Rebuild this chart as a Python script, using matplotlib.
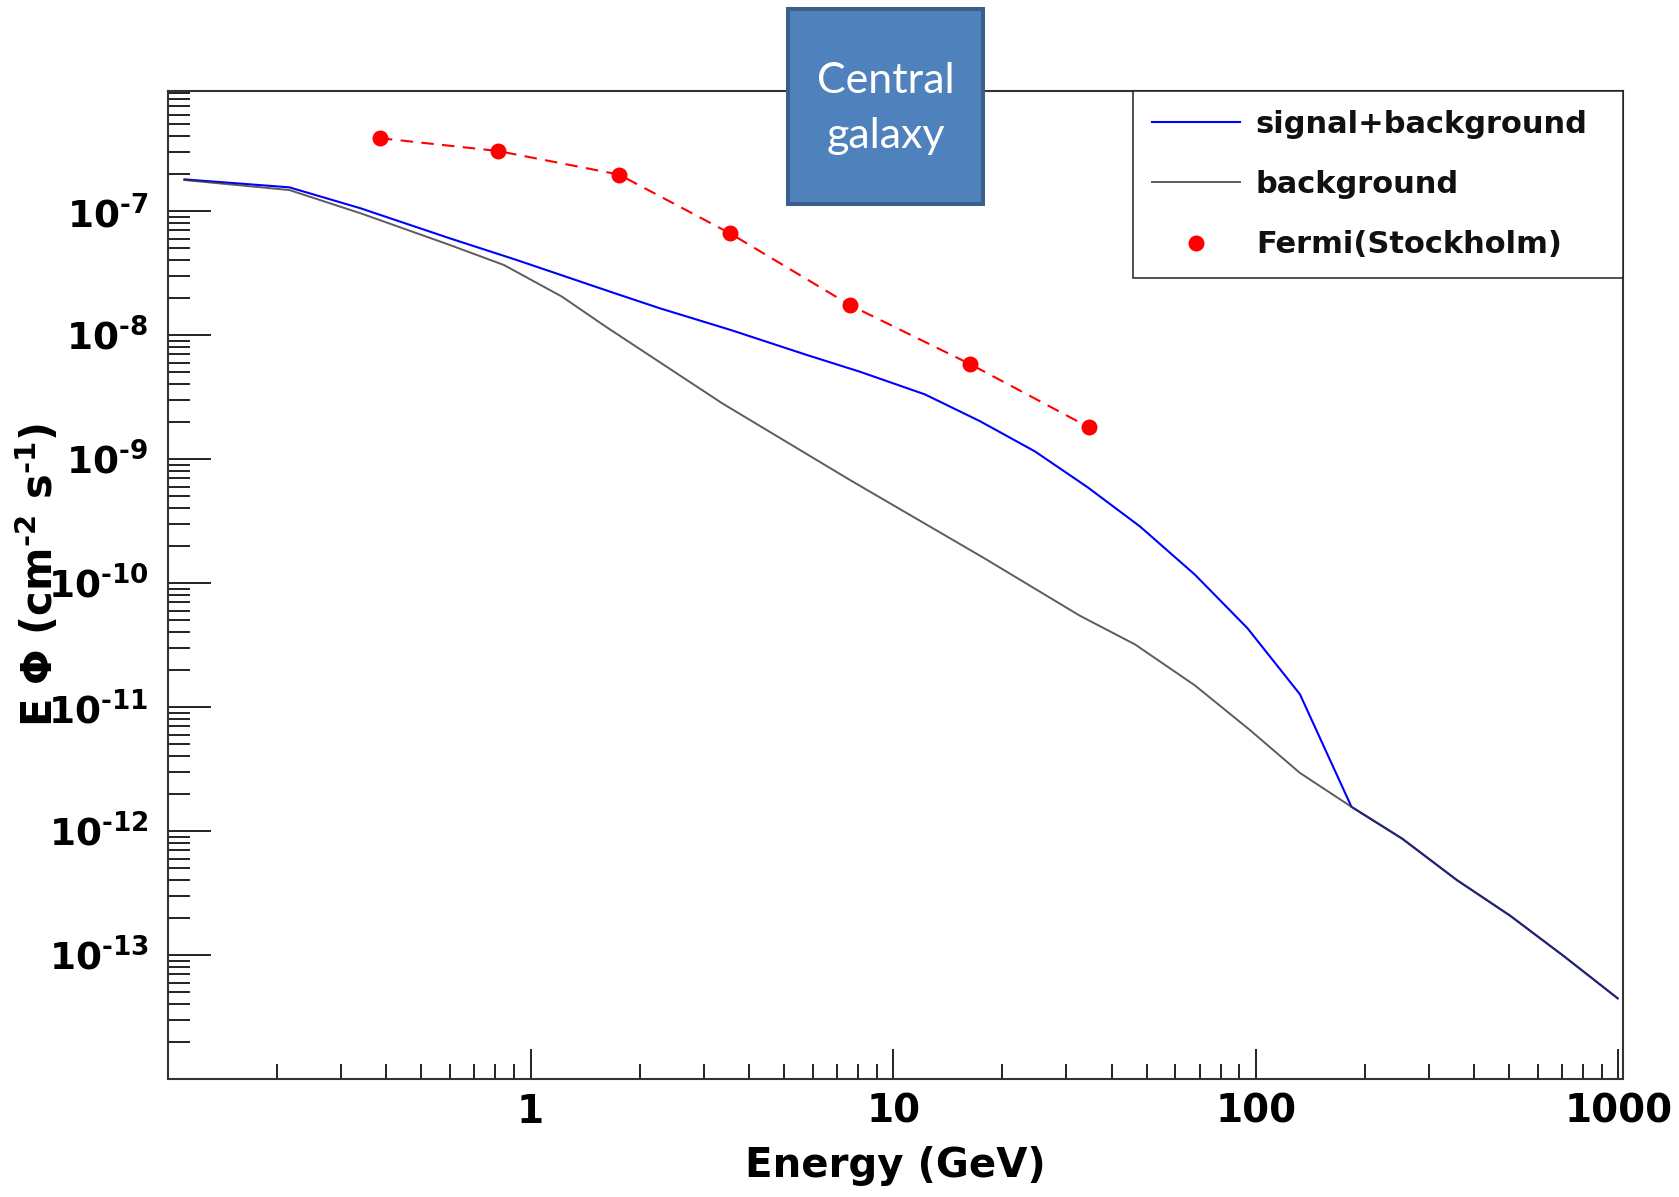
import numpy as np
import matplotlib
matplotlib.use('Agg')
import matplotlib.pyplot as plt
from matplotlib.patches import Rectangle
from matplotlib.ticker import FixedLocator, FixedFormatter, LogLocator, NullFormatter

# values (E in GeV, E*Phi in cm^-2 s^-1)
E_sb = [0.111, 0.216, 0.340, 0.599, 0.917, 1.708, 2.273, 3.567, 5.78, 8.09,
        12.23, 17.34, 24.6, 34.3, 47.9, 67.9, 94.8, 132.3, 183.5, 253.7,
        358.4, 502, 710, 995]
F_sb = [1.80e-7, 1.553e-7, 1.051e-7, 6.02e-8, 4.02e-8, 2.17e-8, 1.642e-8, 1.097e-8,
        6.90e-9, 5.06e-9, 3.32e-9, 2.02e-9, 1.151e-9, 5.94e-10, 2.86e-10, 1.168e-10,
        4.32e-11, 1.266e-11, 1.567e-12, 8.64e-13, 4.02e-13, 2.08e-13, 9.69e-14, 4.47e-14]

E_bg = [0.111, 0.216, 0.340, 0.599, 0.844, 1.22, 1.613, 3.378, 7.60, 17.9,
        32.7, 46.4, 67.9, 96.3, 132.3, 183.5, 253.7, 358.4, 502, 710, 995]
F_bg = [1.778e-7, 1.477e-7, 9.58e-8, 5.32e-8, 3.67e-8, 2.04e-8, 1.166e-8, 2.81e-9,
        6.77e-10, 1.573e-10, 5.45e-11, 3.20e-11, 1.494e-11, 6.52e-12, 2.94e-12,
        1.567e-12, 8.64e-13, 4.02e-13, 2.08e-13, 9.69e-14, 4.47e-14]

E_fermi = [0.384, 0.812, 1.751, 3.55, 7.61, 16.29, 34.6]
F_fermi = [3.87e-7, 3.05e-7, 1.97e-7, 6.60e-8, 1.739e-8, 5.83e-9, 1.805e-9]

xticks = [1, 10, 100, 1000]
xticklabels = ['1', '10', '100', '1000']
yticks = [1e-13, 1e-12, 1e-11, 1e-10, 1e-9, 1e-8, 1e-7]
yticklabels = [r'$\mathbf{10^{\text{-}13}}$', r'$\mathbf{10^{\text{-}12}}$',
               r'$\mathbf{10^{\text{-}11}}$', r'$\mathbf{10^{\text{-}10}}$',
               r'$\mathbf{10^{\text{-}9}}$', r'$\mathbf{10^{\text{-}8}}$',
               r'$\mathbf{10^{\text{-}7}}$']

plt.rcParams['font.family'] = 'DejaVu Sans'
plt.rcParams['font.weight'] = 'bold'
plt.rcParams['mathtext.fontset'] = 'dejavusans'

fig = plt.figure(figsize=(16.79, 11.97), dpi=100)
ax = fig.add_axes([0.10006, 0.09858, 0.8664, 0.8254])

ax.plot(E_sb, F_sb, color='#0000ff', lw=1.5, label='signal+background', zorder=2)
ax.plot(E_bg, F_bg, color='#333333', lw=1.4, alpha=0.8, label='background', zorder=3)
ax.plot(E_fermi, F_fermi, color='#ff0000', lw=1.5, ls=(0, (6, 4)), zorder=4)
ax.plot(E_fermi, F_fermi, 'o', color='#ff0000', ms=11.5, mec='none',
        label='Fermi(Stockholm)', zorder=5)

ax.set_xscale('log')
ax.set_yscale('log')
ax.set_xlim(0.1, 1027)
ax.set_ylim(1e-14, 9.29e-7)

ax.xaxis.set_major_locator(FixedLocator(xticks))
ax.xaxis.set_major_formatter(FixedFormatter(xticklabels))
ax.xaxis.set_minor_locator(LogLocator(base=10, subs=np.arange(2, 10)))
ax.xaxis.set_minor_formatter(NullFormatter())
ax.yaxis.set_major_locator(FixedLocator(yticks))
ax.yaxis.set_major_formatter(FixedFormatter(yticklabels))
ax.yaxis.set_minor_locator(LogLocator(base=10, subs=np.arange(2, 10), numticks=30))
ax.yaxis.set_minor_formatter(NullFormatter())

ax.tick_params(axis='x', which='major', direction='in', length=21.6, width=1.4,
               pad=10, labelsize=28, color='#222222')
ax.tick_params(axis='x', which='minor', direction='in', length=10.6, width=1.4, color='#222222')
ax.tick_params(axis='y', which='major', direction='in', length=31, width=1.4,
               pad=14, labelsize=27, color='#222222')
ax.tick_params(axis='y', which='minor', direction='in', length=15.6, width=1.4, color='#222222')
for s in ax.spines.values():
    s.set_linewidth(1.5)
    s.set_color('#333333')

ax.set_xlabel('Energy (GeV)', fontsize=29, fontweight='bold')
ax.xaxis.set_label_coords(0.5, -0.068)
ax.set_ylabel(r'E Φ (cm$^{\text{-}\mathbf{2}}$ s$^{\text{-}\mathbf{1}}$)', fontsize=30,
              fontweight='bold')
ax.yaxis.set_label_coords(-0.073, 0.51)

leg = ax.legend(loc='upper left', bbox_to_anchor=(0.6634, 0.0, 0.3366, 1.0),
                mode='expand', fontsize=22, frameon=True, fancybox=False,
                framealpha=1, edgecolor='#222222', borderaxespad=0,
                borderpad=0.62, labelspacing=1.02, handlelength=2.88,
                handletextpad=0.52, numpoints=1)
leg.get_frame().set_linewidth(1.1)
for t in leg.get_texts():
    t.set_color('#111111')

# box pasted over the top of the chart
box = Rectangle((0.4695, 0.8296), 0.1161, 0.1626, transform=fig.transFigure,
                facecolor='#4F81BD', edgecolor='#3A5F8B', lw=2.9, zorder=10)
fig.add_artist(box)
fig.text(0.5276, 0.9095, 'Central\ngalaxy', color='white', fontsize=31,
         family='Lato', fontweight='normal', ha='center', va='center',
         linespacing=1.55, zorder=11)

fig.savefig('out.png', dpi=100)
